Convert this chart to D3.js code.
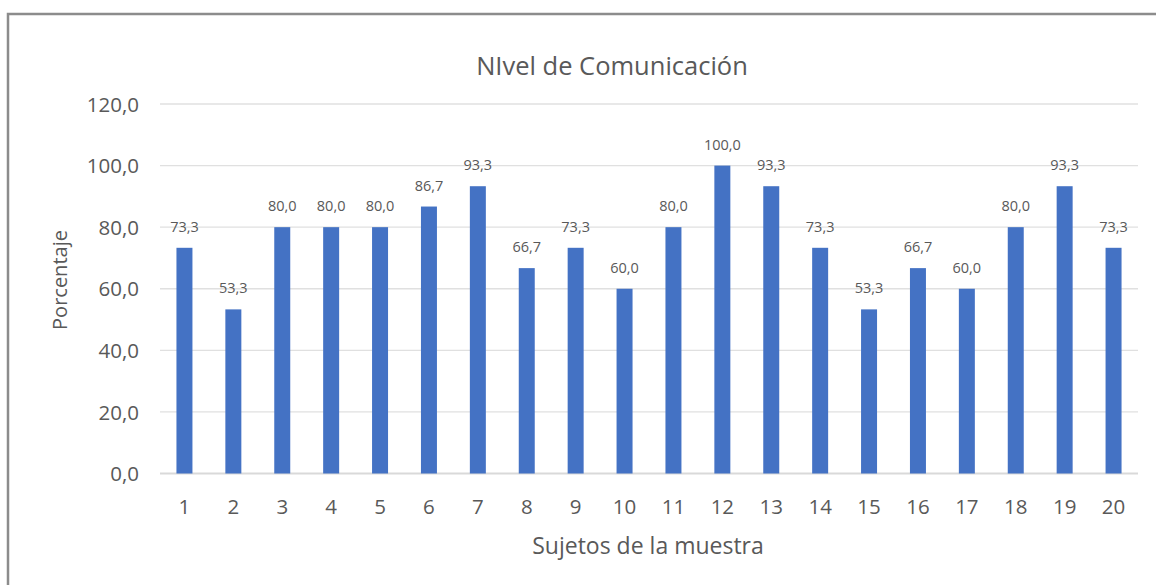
<!DOCTYPE html>
<html><head><meta charset="utf-8">
<script src="https://cdn.jsdelivr.net/npm/d3@7"></script>
<style>
html,body{margin:0;padding:0;background:#fff;}
svg{display:block;}
text{font-family:"Open Sans",sans-serif;fill:#595959;}
</style></head>
<body>
<svg id="c" width="1156" height="585"></svg>
<script>
const categories = ["1","2","3","4","5","6","7","8","9","10","11","12","13","14","15","16","17","18","19","20"];
const values = [73.3,53.3,80.0,80.0,80.0,86.7,93.3,66.7,73.3,60.0,80.0,100.0,93.3,73.3,53.3,66.7,60.0,80.0,93.3,73.3];
const yTicks = [0,20,40,60,80,100,120];
const title = "NIvel de Comunicación";
const yTitle = "Porcentaje";
const xTitle = "Sujetos de la muestra";

(function(){
const svg = d3.select("#c");
const fmt = v => d3.format(".1f")(v).replace(".", ",");

svg.append("rect").attr("x",8).attr("y",14).attr("width",1200).attr("height",640)
  .attr("fill","none").attr("stroke","#8c8c8c").attr("stroke-width",2.5);

const pL = 160, pR = 1138, pT = 104, pB = 473.5;
const x = d3.scaleBand().domain(categories).range([pL, pR]).paddingInner(0.673).paddingOuter(0.3365);
const y = d3.scaleLinear().domain([0,120]).range([pB, pT]);

svg.append("g").selectAll("line").data(yTicks).join("line")
  .attr("x1",pL).attr("x2",pR)
  .attr("y1",d=>y(d)).attr("y2",d=>y(d))
  .attr("stroke",d=>d===0?"#d9d9d9":"#e0e0e0").attr("stroke-width",d=>d===0?2:1.3);

const yAxis = d3.axisLeft(y).tickValues(yTicks).tickFormat(fmt).tickSize(0).tickPadding(0);
const gy = svg.append("g").attr("transform",`translate(139,0)`).call(yAxis);
gy.select(".domain").remove();
gy.selectAll("text").style("font-size","20.5px").attr("fill","#595959").attr("dy","0.35em");

svg.append("g").selectAll("rect").data(values).join("rect")
  .attr("x",(d,i)=>x(categories[i]))
  .attr("width",x.bandwidth())
  .attr("y",d=>y(d))
  .attr("height",d=>pB-y(d))
  .attr("fill","#4472c4");

svg.append("g").selectAll("text").data(values).join("text")
  .attr("x",(d,i)=>x(categories[i])+x.bandwidth()/2)
  .attr("y",d=>y(d)-16)
  .attr("text-anchor","middle")
  .style("font-size","14.5px")
  .text(d=>fmt(d));

const xAxis = d3.axisBottom(x).tickSize(0).tickPadding(0);
const gx = svg.append("g").attr("transform",`translate(0,${pB})`).call(xAxis);
gx.select(".domain").remove();
gx.selectAll("text").style("font-size","20.5px").attr("fill","#595959").attr("dy",null).attr("y",40);

svg.append("text").attr("x",612).attr("y",75).attr("text-anchor","middle").style("font-size","25.5px").text(title);
svg.append("text").attr("transform","translate(67,280) rotate(-90)").attr("text-anchor","middle").style("font-size","20px").text(yTitle);
svg.append("text").attr("x",648).attr("y",554).attr("text-anchor","middle").style("font-size","23px").text(xTitle);
})();
</script>
</body></html>
